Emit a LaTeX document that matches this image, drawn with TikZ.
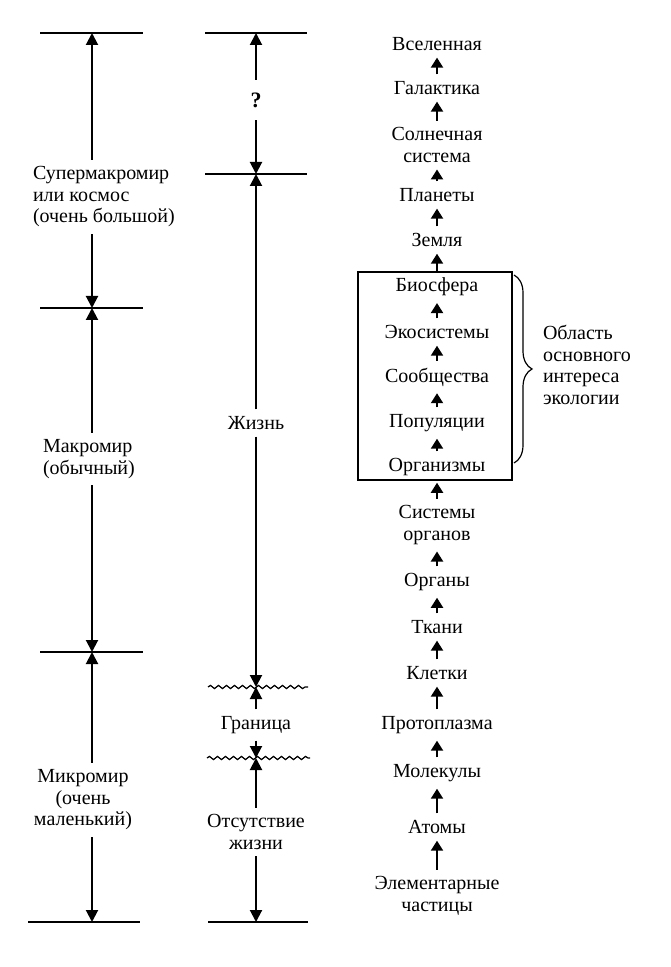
\documentclass[tikz,border=0pt]{standalone}
\usepackage{fontspec}
\setmainfont{Liberation Serif}
\usetikzlibrary{arrows.meta,decorations.pathmorphing,decorations.pathreplacing}

\begin{document}
\begin{tikzpicture}[->,>={Triangle[length=6pt,width=6pt]},x=0.5pt,y=-0.5pt,
        line width=1pt,font=\fontsize{10}{10.75}\selectfont]

    \tikzset{
        lvl/.style={inner sep=3pt,align=center},
        bar/.style={-,line width=1pt},
        wavy/.style={-,decorate,decoration={snake,amplitude=0.8pt,segment length=4pt},line width=0.6pt},
        up/.style={->,>={Triangle[length=5pt,width=6pt]},line width=1pt}
    }

    \useasboundingbox (0,0) rectangle (670,967);

    % left column
    \coordinate (L1) at (92,33);
    \coordinate (L2) at (92,308);
    \coordinate (L3) at (92,652);
    \coordinate (L4) at (92,922);
    \draw[bar] (40,33) -- (143,33);
    \draw[bar] (40,308) -- (143,308);
    \draw[bar] (40,652) -- (143,652);
    \draw[bar] (28,922) -- (140,922);

    \node[lvl,align=left,anchor=west] (super) at (26,197) {Супермакромир\\или космос\\(очень большой)};
    \node[lvl,align=left,anchor=west] (macro) at (36,459) {Макромир\\(обычный)};
    \node[lvl] (micro) at (83,800) {Микромир\\(очень\\маленький)};

    \draw (super.north -| L1) -- (L1);
    \draw (super.south -| L2) -- (L2);
    \draw (macro.north -| L2) -- (L2);
    \draw (macro.south -| L3) -- (L3);
    \draw (micro.north -| L3) -- (L3);
    \draw (micro.south -| L4) -- (L4);

    % middle column
    \coordinate (M1) at (256,33);
    \coordinate (M2) at (256,174);
    \coordinate (W1) at (256,687);
    \coordinate (W2) at (256,758);
    \coordinate (M3) at (256,922);
    \draw[bar] (205,33) -- (307,33);
    \draw[bar] (205,174) -- (307,174);
    \draw[wavy] (208,687) -- (308,687);
    \draw[wavy] (207,758) -- (310,758);
    \draw[bar] (208,922) -- (308,922);

    \node[lvl,font=\fontsize{11}{11}\selectfont\bfseries,inner sep=6pt] (unknown) at (256,100) {?};
    \node[lvl] (life) at (256,423) {Жизнь};
    \node[lvl] (border) at (256,725) {Граница};
    \node[lvl] (nolife) at (256,832) {Отсутствие\\жизни};

    \draw (unknown) -- (M1);
    \draw (unknown) -- (M2);
    \draw (life) -- (M2);
    \draw (life) -- (W1);
    \draw (border) -- (W1);
    \draw (border) -- (W2);
    \draw (nolife) -- (W2);
    \draw (nolife) -- (M3);

    % right column
    \node[lvl] (universe) at (437,44) {Вселенная};
    \node[lvl] (galaxy) at (437,88) {Галактика};
    \node[lvl] (solar) at (437,145) {Солнечная\\система};
    \node[lvl] (planets) at (437,195) {Планеты};
    \node[lvl] (earth) at (437,240) {Земля};
    \node[lvl] (biosphere) at (437,287) {Биосфера};
    \node[lvl] (ecosys) at (437,332) {Экосистемы};
    \node[lvl] (commun) at (437,377) {Сообщества};
    \node[lvl] (popul) at (437,423) {Популяции};
    \node[lvl] (organism) at (437,467) {Организмы};
    \node[lvl] (orgsys) at (437,525) {Системы\\органов};
    \node[lvl] (organs) at (437,582) {Органы};
    \node[lvl] (tissues) at (437,627) {Ткани};
    \node[lvl] (cells) at (437,673) {Клетки};
    \node[lvl] (protopl) at (437,725) {Протоплазма};
    \node[lvl] (molec) at (437,773) {Молекулы};
    \node[lvl] (atoms) at (437,827) {Атомы};
    \node[lvl] (partic) at (437,896) {Элементарные\\частицы};

    \foreach \a/\b in {galaxy/universe,solar/galaxy,planets/solar,earth/planets,
                       biosphere/earth,ecosys/biosphere,commun/ecosys,popul/commun,
                       organism/popul,orgsys/organism,organs/orgsys,tissues/organs,
                       cells/tissues,protopl/cells,molec/protopl,atoms/molec,partic/atoms}
        \draw[up] (\a) -- (\b);

    \draw[bar] (358,272) rectangle (512,480);
    \draw[-,line width=0.6pt,decorate,decoration={brace,amplitude=9pt}] (514,275) -- (514,463);
    \node[lvl,align=left,anchor=west] (ecology) at (536,365) {Область\\основного\\интереса\\экологии};

\end{tikzpicture}
\end{document}
